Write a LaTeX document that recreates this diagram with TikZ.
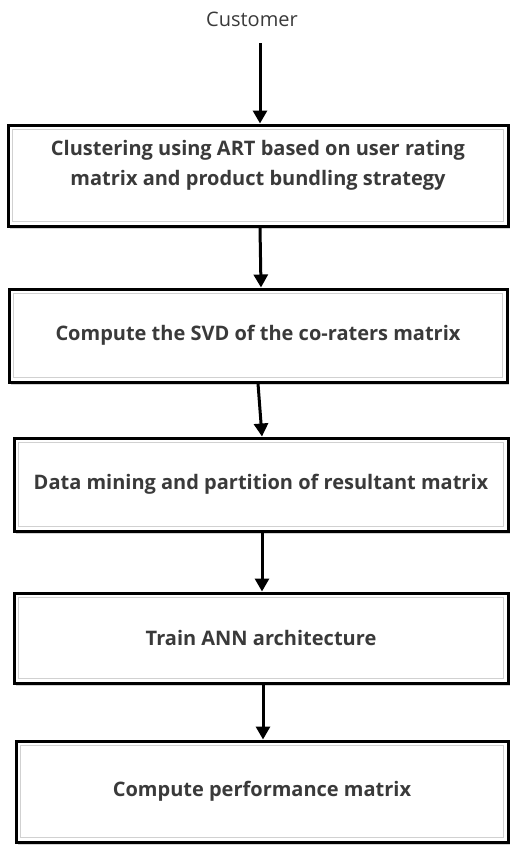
\documentclass[tikz,border=0pt]{standalone}
\usepackage{fontspec}
\setmainfont{Open Sans}
\usetikzlibrary{arrows.meta,shadows}
\definecolor{txtgray}{HTML}{3A3A3A}
\tikzset{
  stepbox/.style={draw=black, line width=3pt, fill=white, text=txtgray,
    font=\bfseries\fontsize{20}{30}\selectfont, align=center, inner sep=0pt,
    drop shadow={shadow xshift=2pt, shadow yshift=-3pt, opacity=0.35, fill=gray},
    path picture={\draw[black!18, line width=1.5pt]
      ([shift={(4.5pt,-4.5pt)}]path picture bounding box.north west) rectangle
      ([shift={(-4.5pt,4.5pt)}]path picture bounding box.south east);}},
  flow/.style={line width=3pt, -{Triangle[length=13pt,width=14pt]}},
}
\begin{document}
\begin{tikzpicture}[x=1pt,y=-1pt]
\useasboundingbox (0,0) rectangle (510,846);
\node[text=txtgray, font=\fontsize{20}{22}\selectfont] (cust) at (252,19) {Customer};
\coordinate (c0) at (260,43);
\node[stepbox, minimum width=500, minimum height=101] (b1) at (258,175.5)
  {Clustering using ART based on user rating\\matrix and product bundling strategy\\[-5pt]\mbox{}};
\node[stepbox, minimum width=498, minimum height=93] (b2) at (258,335.5)
  {Compute the SVD of the co-raters matrix};
\node[stepbox, minimum width=494, minimum height=93] (b3) at (261,484.5)
  {Data mining and partition of resultant matrix};
\node[stepbox, minimum width=494, minimum height=90] (b4) at (261,638)
  {Train ANN architecture};
\node[stepbox, minimum width=492, minimum height=101] (b5) at (262,791.5)
  {Compute performance matrix};
\draw[flow] (c0) -- (c0 |- b1.north);
\draw[flow] ([xshift=2pt]b1.south) -- ([xshift=3pt]b2.north);
\draw[flow] (b2.south) -- ([xshift=1pt]b3.north);
\draw[flow] ([xshift=1pt]b3.south) -- ([xshift=1pt]b4.north);
\draw[flow] ([xshift=2pt]b4.south) -- ([xshift=1pt]b5.north);
\end{tikzpicture}
\end{document}
